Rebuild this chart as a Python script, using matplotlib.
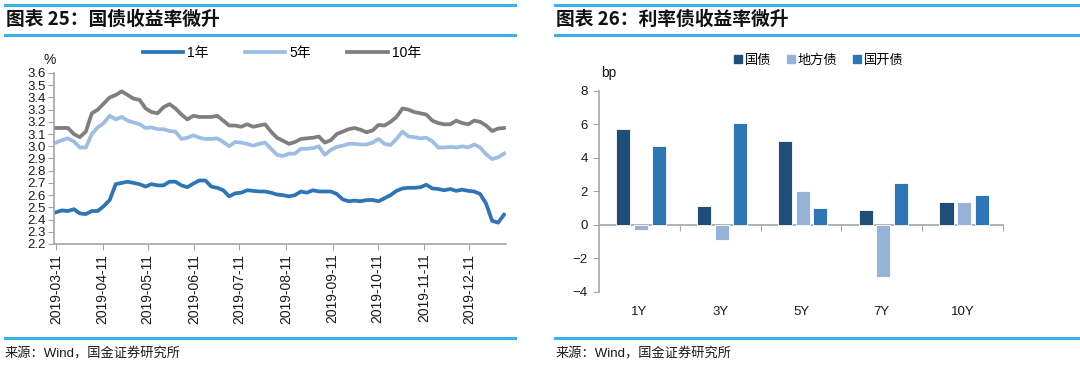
import matplotlib
matplotlib.use("Agg")
import matplotlib.pyplot as plt
from matplotlib.lines import Line2D
from matplotlib.patches import Patch
import matplotlib.dates as mdates
import pandas as pd
import numpy as np

plt.rcParams["font.family"] = ["Liberation Sans", "Noto Sans CJK SC", "DejaVu Sans"]
CJK = ["Noto Sans CJK SC", "DejaVu Sans"]

RULE = "#3bb0e8"; AXC = "#a6a6a6"; INK = "#1a1a1a"
C1 = "#2e75b6"; C5 = "#9dbde3"; C10 = "#7f7f7f"
NAVY = "#1f4e79"; LIGHT = "#95b3d7"; MID = "#2e75b6"

# ---------------------------------------------------------------- left data
start, end = "2019-03-11", "2020-01-03"
dates = pd.date_range(start, end, periods=76)
y1 = [2.46, 2.475, 2.47, 2.485, 2.45, 2.445, 2.47, 2.47, 2.51, 2.56,
      2.69, 2.70, 2.71, 2.70, 2.69, 2.67, 2.69, 2.68, 2.68, 2.71,
      2.71, 2.68, 2.665, 2.695, 2.72, 2.72, 2.67, 2.66, 2.64, 2.59,
      2.615, 2.62, 2.64, 2.635, 2.63, 2.63, 2.62, 2.605, 2.60, 2.59,
      2.60, 2.63, 2.62, 2.64, 2.63, 2.63, 2.63, 2.61, 2.565, 2.55,
      2.555, 2.55, 2.56, 2.56, 2.55, 2.575, 2.60, 2.635, 2.655, 2.66,
      2.66, 2.665, 2.685, 2.655, 2.65, 2.64, 2.65, 2.635, 2.645, 2.635,
      2.63, 2.61, 2.53, 2.39, 2.375, 2.44]
y5 = [3.03, 3.05, 3.065, 3.04, 2.99, 2.99, 3.10, 3.155, 3.19, 3.25,
      3.22, 3.24, 3.21, 3.195, 3.18, 3.15, 3.155, 3.14, 3.14, 3.125,
      3.12, 3.06, 3.07, 3.09, 3.07, 3.06, 3.06, 3.065, 3.035, 3.00,
      3.035, 3.03, 3.02, 3.005, 3.02, 3.03, 2.98, 2.93, 2.92, 2.94,
      2.94, 2.98, 2.98, 2.985, 3.00, 2.93, 2.97, 2.995, 3.005, 3.02,
      3.02, 3.015, 3.015, 3.03, 3.06, 3.02, 3.01, 3.06, 3.12, 3.08,
      3.075, 3.065, 3.07, 3.04, 2.99, 2.99, 2.995, 2.99, 3.00, 2.99,
      3.015, 2.99, 2.935, 2.895, 2.91, 2.94]
y10 = [3.15, 3.15, 3.15, 3.10, 3.075, 3.12, 3.27, 3.30, 3.35, 3.40,
       3.42, 3.45, 3.42, 3.39, 3.38, 3.31, 3.28, 3.27, 3.32, 3.345,
       3.31, 3.26, 3.22, 3.25, 3.24, 3.24, 3.24, 3.25, 3.21, 3.17,
       3.17, 3.16, 3.18, 3.16, 3.17, 3.18, 3.12, 3.07, 3.045, 3.02,
       3.035, 3.06, 3.065, 3.07, 3.08, 3.03, 3.05, 3.10, 3.12, 3.14,
       3.15, 3.135, 3.115, 3.13, 3.175, 3.17, 3.20, 3.24, 3.31, 3.30,
       3.28, 3.27, 3.26, 3.21, 3.19, 3.18, 3.18, 3.21, 3.19, 3.18,
       3.21, 3.20, 3.17, 3.125, 3.145, 3.15]
tick_dates = pd.to_datetime(["2019-03-11", "2019-04-11", "2019-05-11", "2019-06-11",
                             "2019-07-11", "2019-08-11", "2019-09-11", "2019-10-11",
                             "2019-11-11", "2019-12-11"])

# --------------------------------------------------------------- right data
tenors = ["1Y", "3Y", "5Y", "7Y", "10Y"]
gov = [5.7, 1.1, 5.0, 0.87, 1.35]
local = [-0.3, -0.9, 2.0, -3.1, 1.35]
cdb = [4.7, 6.1, 1.0, 2.5, 1.75]
bar_names = ["国债", "地方债", "国开债"]

fig = plt.figure(figsize=(10.8, 3.66), dpi=100)

# frame rules and titles
for x0, x1 in [(5 / 1080, 515 / 1080), (555 / 1080, 1.0)]:
    for yy in (1 - 5 / 366, 1 - 35 / 366, 1 - 338 / 366):
        fig.add_artist(Line2D([x0, x1], [yy, yy], color=RULE, lw=2.2))
fig.text(6 / 1080, 1 - 19 / 366, "图表 25：国债收益率微升", family=CJK, fontsize=13.5,
         fontweight="bold", va="center", ha="left", color="#111111")
fig.text(556 / 1080, 1 - 19 / 366, "图表 26：利率债收益率微升", family=CJK, fontsize=13.5,
         fontweight="bold", va="center", ha="left", color="#111111")
for xs in (5 / 1080, 556 / 1080):
    fig.text(xs, 1 - 354 / 366, "来源：Wind，国金证券研究所", family=["Liberation Sans"] + CJK,
             fontsize=9.5, va="center", ha="left", color=INK)

# ---------------------------------------------------------------- left chart
ax = fig.add_axes([54 / 1080, 1 - 244 / 366, 452 / 1080, 171 / 366])
ax.plot(dates, y1, color=C1, lw=2.7, label="1年", solid_joinstyle="round")
ax.plot(dates, y5, color=C5, lw=2.7, label="5年", solid_joinstyle="round")
ax.plot(dates, y10, color=C10, lw=2.7, label="10年", solid_joinstyle="round")
ax.set_ylim(2.2, 3.6)
ax.set_yticks(np.arange(2.2, 3.61, 0.1))
ax.set_yticklabels([f"{v:.1f}" for v in np.arange(2.2, 3.61, 0.1)])
ax.set_xlim(dates[0] - pd.Timedelta(days=1.3), dates[-1] + pd.Timedelta(days=1.3))
ax.set_xticks(tick_dates)
ax.xaxis.set_major_formatter(mdates.DateFormatter("%Y-%m-%d"))
for s in ["top", "right"]:
    ax.spines[s].set_visible(False)
for s in ["left", "bottom"]:
    ax.spines[s].set_color(AXC)
    ax.spines[s].set_linewidth(1.2)
ax.tick_params(axis="y", direction="out", length=4, color=AXC, labelsize=9.5, pad=2, labelcolor=INK)
ax.tick_params(axis="x", direction="out", length=4, color=AXC, labelsize=10, pad=3,
               labelrotation=90, labelcolor=INK)
fig.text(50 / 1080, 1 - 60 / 366, "%", fontsize=10, ha="center", va="center", color=INK)
fig.legend(handles=ax.get_lines(), labels=["1年", "5年", "10年"], loc="center",
           bbox_to_anchor=(282 / 1080, 1 - 53 / 366), ncol=3, frameon=False,
           prop={"family": ["Liberation Sans"] + CJK, "size": 10}, handlelength=2.9,
           handletextpad=0.3, columnspacing=2.6, borderaxespad=0, borderpad=0)

# --------------------------------------------------------------- right chart
bx = fig.add_axes([599 / 1080, 1 - 291.7 / 366, 404 / 1080, 200.9 / 366])
xi = np.arange(len(tenors))
w = 0.175; step = 0.22
for k, (vals, col, name) in enumerate([(gov, NAVY, bar_names[0]), (local, LIGHT, bar_names[1]),
                                       (cdb, MID, bar_names[2])]):
    bx.bar(xi + (k - 1) * step + 0.02, vals, width=w, color=col, edgecolor="white",
           linewidth=0.6, label=name, zorder=3)
bx.set_xlim(-0.5, len(tenors) - 0.5)
bx.set_ylim(-4, 8)
bx.set_yticks(np.arange(-4, 9, 2))
bx.set_xticks(xi)
bx.set_xticklabels(tenors)
for s in ["top", "right", "bottom"]:
    bx.spines[s].set_visible(False)
bx.spines["left"].set_color(AXC)
bx.spines["left"].set_linewidth(1.2)
bx.tick_params(axis="y", direction="out", length=4, color=AXC, labelsize=9.5, pad=4, labelcolor=INK)
bx.tick_params(axis="x", length=0, labelsize=9.5, pad=10, labelcolor=INK)
zero = bx.secondary_xaxis(4 / 12)
zero.set_xticks(xi + 0.5)
zero.set_xticklabels([])
zero.spines["bottom"].set_color(AXC)
zero.spines["bottom"].set_linewidth(1.2)
zero.tick_params(axis="x", direction="out", length=4, color=AXC)
fig.text(601 / 1080, 1 - 73 / 366, "bp", fontsize=10, ha="left", va="center", color=INK)
handles = [Patch(color=c) for c in (NAVY, LIGHT, MID)]
fig.legend(handles=handles, labels=bar_names, loc="center",
           bbox_to_anchor=(819 / 1080, 1 - 60 / 366), ncol=3, frameon=False,
           prop={"family": CJK, "size": 9.5}, handlelength=0.6, handleheight=0.6,
           handletextpad=0.2, columnspacing=1.2, borderaxespad=0, borderpad=0)

fig.savefig("out.png", dpi=100, facecolor="white")
